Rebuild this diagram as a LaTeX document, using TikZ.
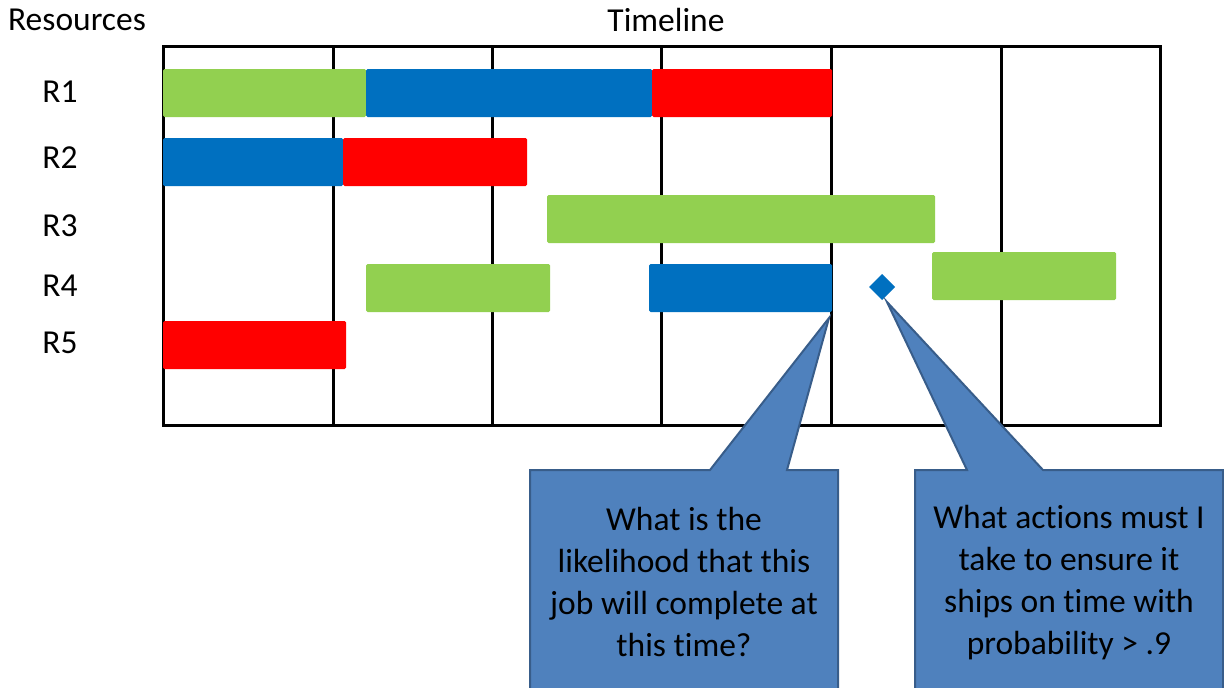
\documentclass[tikz,border=0pt]{standalone}
\usepackage{fontspec}
\setmainfont{Carlito}[Ligatures=NoCommon]
\definecolor{bgreen}{HTML}{92D050}
\definecolor{bblue}{HTML}{0070C0}
\definecolor{bred}{HTML}{FF0000}
\definecolor{cfill}{HTML}{4F81BD}
\definecolor{cdraw}{HTML}{385D8A}
\tikzset{
  bar/.style={rounded corners=1.5pt},
  gridline/.style={line width=3pt,black},
  callout/.style={fill=cfill,draw=cdraw,line width=2pt,line join=miter},
  lbl/.style={font=\fontsize{33.5}{42}\selectfont,inner sep=0pt},
  ctext/.style={font=\fontsize{33.5}{42}\selectfont,align=center,inner sep=0pt}
}
\begin{document}
\begin{tikzpicture}[x=1pt,y=-1pt]
\useasboundingbox[fill=white] (0,0) rectangle (1224,688);
% grid
\foreach \x in {333,492,661,831,1001}{
  \draw[gridline] (\x,46) -- (\x,425);
}
\draw[gridline] (163,46) rectangle (1160,425);
% bars
\fill[bar,bgreen] (163,69) rectangle (366,117);
\fill[bar,bblue] (366,69) rectangle (652,117);
\fill[bar,bred] (652,69) rectangle (832,117);
\fill[bar,bblue] (163,138) rectangle (343,186);
\fill[bar,bred] (343,138) rectangle (527,186);
\fill[bar,bgreen] (547,195) rectangle (935,243);
\fill[bar,bgreen] (366,264) rectangle (550,312);
\fill[bar,bblue] (649,264) rectangle (832,312);
\fill[bar,bgreen] (932,252) rectangle (1116,300);
\fill[bar,bred] (163,321) rectangle (346,369);
% diamond
\fill[bblue] (882,274) -- (895,287) -- (882,300) -- (869,287) -- cycle;
% labels
\node[lbl] (res) at (77,20) {Resources};
\node[lbl] (tl) at (666,20) {Timeline};
\node[lbl] (r1) at (60,92) {R1};
\node[lbl] (r2) at (60,158) {R2};
\node[lbl] (r3) at (60,226) {R3};
\node[lbl] (r4) at (60,286) {R4};
\node[lbl] (r5) at (60,343) {R5};
% callouts
\draw[callout] (530,470) -- (710,470) -- (829,318) -- (787,470) -- (838,470) -- (838,690) -- (530,690) -- cycle;
\draw[callout] (915,470) -- (967,470) -- (887,302) -- (1043,470) -- (1223,470) -- (1223,690) -- (915,690) -- cycle;
\node[ctext] (q1) at (684,582) {What is the\\likelihood that this\\job will complete at\\this time?};
\node[ctext] (q2) at (1069,583) {What actions must I\\take to ensure it\\ships on time with\\probability > .9};
\end{tikzpicture}
\end{document}
